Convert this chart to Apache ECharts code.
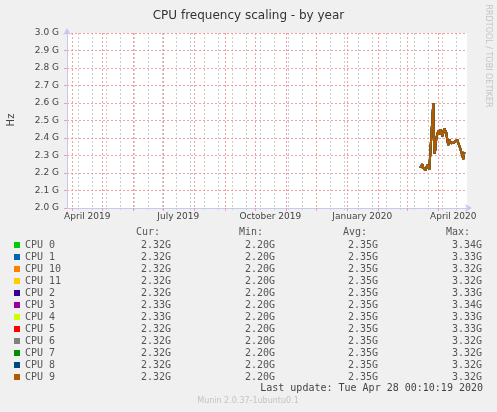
<!DOCTYPE html>
<html>
<head>
<meta charset="utf-8">
<script src="https://cdn.jsdelivr.net/npm/echarts@6/dist/echarts.min.js"></script>
<style>
html, body { margin: 0; padding: 0; background: #f0f0f0; }
#chart { width: 497px; height: 412px; }
</style>
</head>
<body>
<div id="chart"></div>
<script>
// time range shown (about 400 days, 1 px per day)
var axisStart = '2019-03-26T17:00:00';
var axisEnd = '2020-04-29T17:00:00';

// red grid: first day of every month
var monthStarts = ['2019-04-01', '2019-05-01', '2019-06-01', '2019-07-01', '2019-08-01', '2019-09-01',
	'2019-10-01', '2019-11-01', '2019-12-01', '2020-01-01', '2020-02-01', '2020-03-01', '2020-04-01'];
// grey grid: every other sunday
var minorDays = ['2019-04-07', '2019-04-21', '2019-05-05', '2019-05-19', '2019-06-02', '2019-06-16',
	'2019-06-30', '2019-07-14', '2019-07-28', '2019-08-11', '2019-08-25', '2019-09-08', '2019-09-22',
	'2019-10-06', '2019-10-20', '2019-11-03', '2019-11-17', '2019-12-01', '2019-12-15', '2019-12-29',
	'2020-01-12', '2020-01-26', '2020-02-09', '2020-02-23', '2020-03-08', '2020-03-22', '2020-04-05',
	'2020-04-19'];
// labels sit in the middle of the month
var labelDays = ['2019-04-16', '2019-07-16', '2019-10-16', '2020-01-16', '2020-04-16'];
var labelTexts = ['April 2019', 'July 2019', 'October 2019', 'January 2020', 'April 2020'];

// daily samples (GHz), all cpus run nearly identical
var days = ['2020-03-14', '2020-03-15', '2020-03-16', '2020-03-17', '2020-03-18', '2020-03-19', '2020-03-20',
	'2020-03-21', '2020-03-22', '2020-03-23', '2020-03-24', '2020-03-25', '2020-03-26', '2020-03-27',
	'2020-03-28', '2020-03-29', '2020-03-30', '2020-03-31', '2020-04-01', '2020-04-02', '2020-04-03',
	'2020-04-04', '2020-04-05', '2020-04-06', '2020-04-07', '2020-04-08', '2020-04-09', '2020-04-10',
	'2020-04-11', '2020-04-12', '2020-04-13', '2020-04-14', '2020-04-15', '2020-04-16', '2020-04-17',
	'2020-04-18', '2020-04-19', '2020-04-20', '2020-04-21', '2020-04-22', '2020-04-23', '2020-04-24',
	'2020-04-25', '2020-04-26', '2020-04-27'];
var freqG = [2.23, 2.24, 2.25, 2.23, 2.22, 2.215, 2.22,
	2.245, 2.25, 2.22, 2.21, 2.21, 2.50, 2.60,
	2.31, 2.33, 2.40, 2.42, 2.44, 2.42, 2.45,
	2.44, 2.41, 2.43, 2.455, 2.45, 2.43, 2.39,
	2.36, 2.39, 2.38, 2.37, 2.38, 2.37, 2.375,
	2.38, 2.385, 2.39, 2.37, 2.36, 2.34, 2.32,
	2.30, 2.28, 2.32];

var cpuNames = ['CPU 0', 'CPU 1', 'CPU 10', 'CPU 11', 'CPU 2', 'CPU 3', 'CPU 4', 'CPU 5', 'CPU 6', 'CPU 7', 'CPU 8', 'CPU 9'];
var cpuColors = ['#00cc00', '#0066b3', '#ff8000', '#ffcc00', '#330099', '#990099', '#ccff00', '#ff0000', '#808080', '#008f00', '#00487d', '#b35a00'];
var curVals = ['2.32G', '2.32G', '2.32G', '2.32G', '2.32G', '2.33G', '2.33G', '2.32G', '2.32G', '2.32G', '2.32G', '2.32G'];
var minVals = ['2.20G', '2.20G', '2.20G', '2.20G', '2.20G', '2.20G', '2.20G', '2.20G', '2.20G', '2.20G', '2.20G', '2.20G'];
var avgVals = ['2.35G', '2.35G', '2.35G', '2.35G', '2.35G', '2.35G', '2.35G', '2.35G', '2.35G', '2.35G', '2.35G', '2.35G'];
var maxVals = ['3.34G', '3.33G', '3.32G', '3.32G', '3.33G', '3.34G', '3.33G', '3.33G', '3.32G', '3.32G', '3.32G', '3.32G'];

var mono = 'DejaVu Sans Mono';
var sans = 'DejaVu Sans';
var majorGrid = '#f2a0a0';
var minorGrid = '#cdcdcd';
var axisBlue = '#c8c8f0';

function ts(s) {
	return new Date(s.length > 10 ? s : s + 'T00:00:00').getTime();
}

var seriesList = [];
for (var i = 0; i < cpuNames.length; i++) {
	var pts = [];
	for (var j = 0; j < days.length; j++) {
		pts.push([ts(days[j]), freqG[j] * 1e9]);
	}
	seriesList.push({
		name: cpuNames[i],
		type: 'line',
		xAxisIndex: 0,
		showSymbol: false,
		symbol: 'none',
		color: cpuColors[i],
		lineStyle: { width: 2 },
		data: pts,
		z: 5,
		animation: false
	});
}

var colText = { fontFamily: mono, fontSize: 10, color: '#555', lineHeight: 12 };

var option = {
	backgroundColor: '#f0f0f0',
	animation: false,
	title: {
		text: 'CPU frequency scaling - by year',
		left: 'center',
		top: 5,
		textStyle: { fontFamily: sans, fontSize: 12, fontWeight: 'normal', color: '#333' }
	},
	grid: {
		left: 67, top: 33, width: 400, height: 175,
		show: true, backgroundColor: '#ffffff', borderWidth: 0
	},
	legend: {
		orient: 'vertical',
		left: 14,
		top: 239,
		padding: 0,
		itemWidth: 6,
		itemHeight: 6,
		itemGap: 0,
		icon: 'rect',
		selectedMode: false,
		data: cpuNames,
		textStyle: {
			fontFamily: mono, fontSize: 10, color: '#555', lineHeight: 12,
			rich: {
				n: Object.assign({ width: 100 }, colText),
				c: Object.assign({ width: 46, align: 'right' }, colText),
				m: Object.assign({ width: 104, align: 'right' }, colText),
				a: Object.assign({ width: 103, align: 'right' }, colText),
				x: Object.assign({ width: 104, align: 'right' }, colText)
			}
		},
		formatter: function (name) {
			var k = cpuNames.indexOf(name);
			return '{n|' + name + '}{c|' + curVals[k] + '}{m|' + minVals[k] + '}{a|' + avgVals[k] + '}{x|' + maxVals[k] + '}';
		}
	},
	xAxis: [{
		type: 'value',
		min: ts(axisStart),
		max: ts(axisEnd),
		position: 'bottom',
		z: 3,
		axisLine: { show: true, lineStyle: { color: axisBlue, width: 1 }, symbol: ['none', 'arrow'], symbolSize: [6, 7], symbolOffset: [0, 5] },
		axisTick: { show: true, length: 3, customValues: monthStarts.map(ts), lineStyle: { color: majorGrid } },
		axisLabel: {
			show: true, customValues: labelDays.map(ts), margin: 4, fontFamily: sans, fontSize: 9, color: '#444',
			formatter: function (v) { return labelTexts[labelDays.map(ts).indexOf(v)] || ''; }
		},
		splitLine: { show: true, lineStyle: { color: majorGrid, type: [2, 2], width: 1 } }
	}, {
		type: 'value',
		min: ts(axisStart),
		max: ts(axisEnd),
		position: 'bottom',
		z: 1,
		axisLine: { show: false },
		axisTick: { show: true, length: 2, customValues: minorDays.map(ts), lineStyle: { color: minorGrid } },
		axisLabel: { show: false },
		splitLine: { show: true, lineStyle: { color: minorGrid, type: [2, 2], width: 1 } }
	}],
	yAxis: {
		type: 'value',
		min: 2e9,
		max: 3e9,
		interval: 1e8,
		z: 3,
		axisLine: { show: true, lineStyle: { color: axisBlue, width: 1 }, symbol: ['none', 'arrow'], symbolSize: [6, 7], symbolOffset: [0, 5] },
		axisTick: { show: true, length: 3, lineStyle: { color: majorGrid } },
		axisLabel: {
			margin: 8, fontFamily: sans, fontSize: 9, color: '#444',
			formatter: function (v) { return (v / 1e9).toFixed(1) + ' G'; }
		},
		splitLine: { show: true, lineStyle: { color: majorGrid, type: [2, 2], width: 1 } }
	},
	graphic: [
		{ type: 'text', x: 11, y: 120, rotation: Math.PI / 2,
			style: { text: 'Hz', fontFamily: sans, fontSize: 10, fill: '#444', align: 'center', verticalAlign: 'middle' } },
		{ type: 'text', x: 488, y: 56, rotation: -Math.PI / 2,
			style: { text: 'RRDTOOL / TOBI OETIKER', fontFamily: sans, fontSize: 8, fill: '#c4c4c4', align: 'center', verticalAlign: 'middle' } },
		{ type: 'text', x: 160, y: 232, style: { text: 'Cur:', fontFamily: mono, fontSize: 10, fill: '#555', align: 'right', verticalAlign: 'middle' } },
		{ type: 'text', x: 263, y: 232, style: { text: 'Min:', fontFamily: mono, fontSize: 10, fill: '#555', align: 'right', verticalAlign: 'middle' } },
		{ type: 'text', x: 367, y: 232, style: { text: 'Avg:', fontFamily: mono, fontSize: 10, fill: '#555', align: 'right', verticalAlign: 'middle' } },
		{ type: 'text', x: 470, y: 232, style: { text: 'Max:', fontFamily: mono, fontSize: 10, fill: '#555', align: 'right', verticalAlign: 'middle' } },
		{ type: 'text', x: 483, y: 388, style: { text: 'Last update: Tue Apr 28 00:10:19 2020', fontFamily: mono, fontSize: 10, fill: '#444', align: 'right', verticalAlign: 'middle' } },
		{ type: 'text', x: 248, y: 401, style: { text: 'Munin 2.0.37-1ubuntu0.1', fontFamily: sans, fontSize: 8, fill: '#c4c4c4', align: 'center', verticalAlign: 'middle' } }
	],
	series: seriesList
};

var myChart = echarts.init(document.getElementById('chart'));
myChart.setOption(option);
</script>
</body>
</html>
